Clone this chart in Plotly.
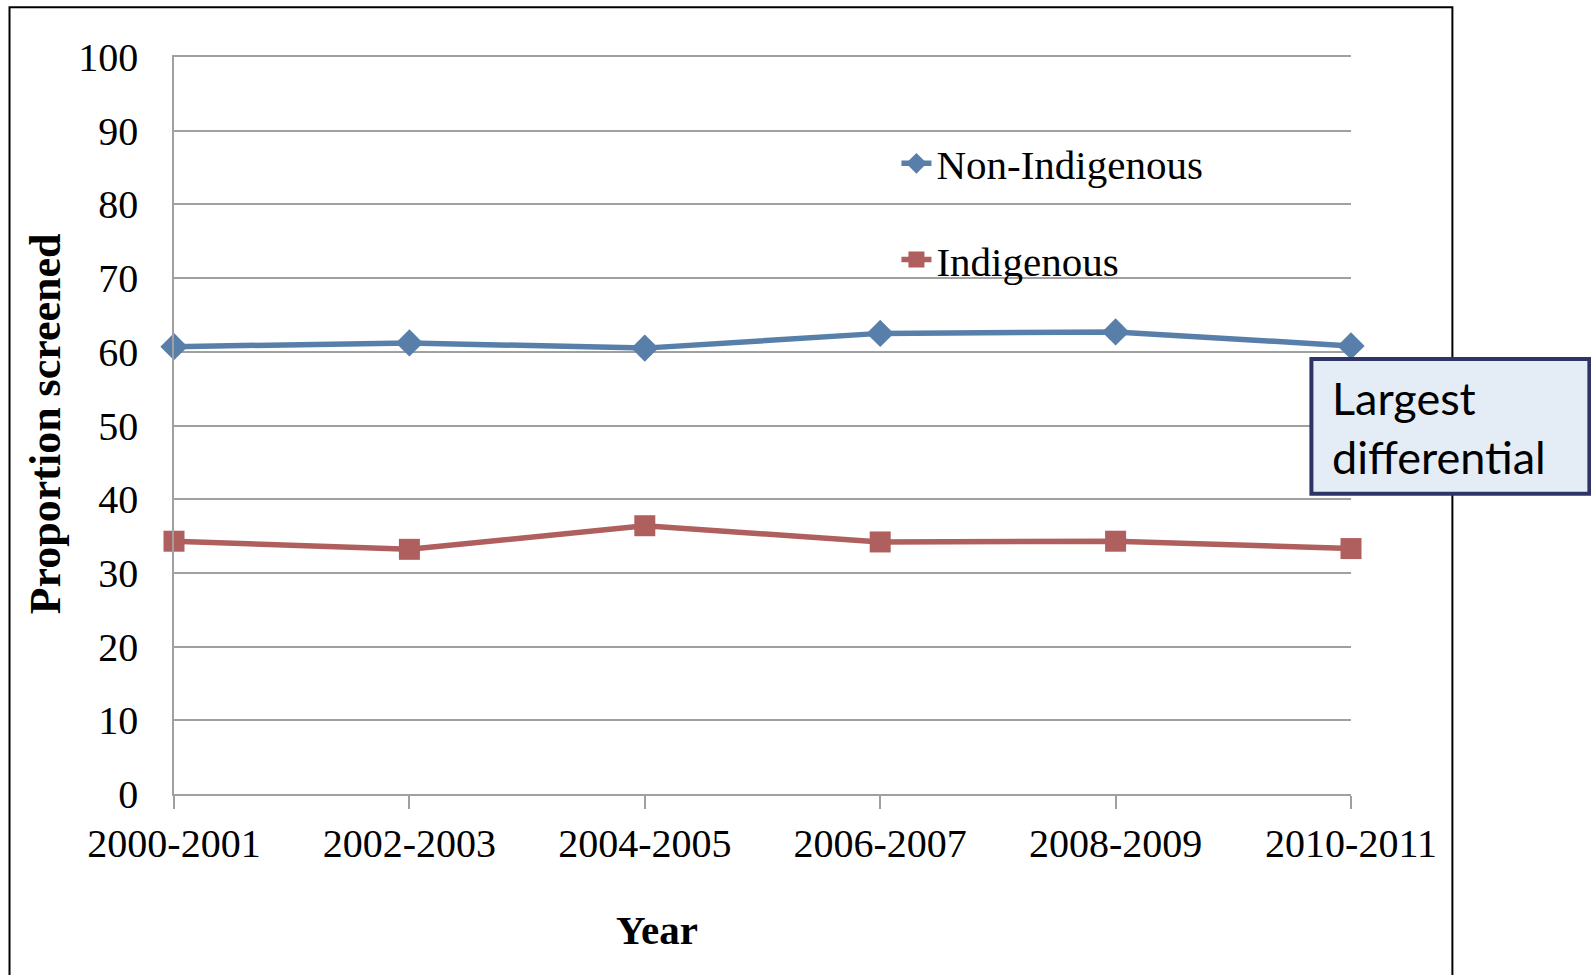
import plotly.graph_objects as go

# Screening proportions by financial year
years = ["2000-2001", "2002-2003", "2004-2005", "2006-2007", "2008-2009", "2010-2011"]
non_indigenous = [60.7, 61.2, 60.5, 62.5, 62.7, 60.8]
indigenous = [34.3, 33.2, 36.4, 34.2, 34.3, 33.3]
y_ticks = [0, 10, 20, 30, 40, 50, 60, 70, 80, 90, 100]

W, H = 1591, 975
L, R, T, B = 173.5, 1350.6, 56.8, 794.5  # plot area in pixels


def xp(px):
    return (px - L) / (R - L)


def yp(py):
    return (B - py) / (B - T)


SERIF = "Liberation Serif, Times New Roman, serif"
BLUE = "#587fa9"
RED = "#af5f5d"
GRID = "#a0a0a0"

fig = go.Figure()
fig.add_trace(go.Scatter(
    x=list(range(len(years))), y=non_indigenous, name="Non-Indigenous",
    mode="lines+markers", cliponaxis=False, legendgroup="a",
    line=dict(color=BLUE, width=5.5),
    marker=dict(symbol="diamond", size=21, color=BLUE),
))
fig.add_trace(go.Scatter(
    x=list(range(len(years))), y=indigenous, name="Indigenous",
    mode="lines+markers", cliponaxis=False, legendgroup="b",
    line=dict(color=RED, width=5.5),
    marker=dict(symbol="square", size=21, color=RED),
))

fig.update_layout(
    width=W, height=H,
    margin=dict(l=L, r=W - R, t=T, b=H - B, pad=0),
    paper_bgcolor="white", plot_bgcolor="white",
    font=dict(family=SERIF, size=40, color="black"),
    showlegend=True,
    legend=dict(
        x=xp(896), y=yp(130), xanchor="left", yanchor="top",
        bgcolor="rgba(0,0,0,0)", traceorder="grouped", tracegroupgap=40,
        font=dict(family=SERIF, size=41, color="black"),
    ),
    xaxis=dict(
        range=[0, len(years) - 1], tickmode="array",
        tickvals=list(range(len(years))), ticktext=years,
        showgrid=False, zeroline=False,
        showline=True, mirror=True, linecolor=GRID, linewidth=1.5,
        ticks="outside", ticklen=13, tickcolor=GRID, tickwidth=1.5,
        tickfont=dict(family=SERIF, size=40, color="black"),
    ),
    yaxis=dict(
        range=[0, 100], tickmode="array", tickvals=y_ticks,
        showgrid=True, gridcolor=GRID, gridwidth=1.5,
        zeroline=False, showline=True, linecolor=GRID, linewidth=1.5,
        ticks="", ticklabelstandoff=26,
        tickfont=dict(family=SERIF, size=40, color="black"),
    ),
)

# Axis titles
fig.add_annotation(
    text="<b>Proportion screened</b>", textangle=-90,
    xref="paper", yref="paper", x=xp(45), y=yp(424),
    xanchor="center", yanchor="middle", showarrow=False,
    font=dict(family=SERIF, size=44, color="black"),
)
fig.add_annotation(
    text="<b>Year</b>",
    xref="paper", yref="paper", x=xp(657), y=yp(931),
    xanchor="center", yanchor="middle", showarrow=False,
    font=dict(family=SERIF, size=41, color="black"),
)

# Outer chart frame
fig.add_shape(
    type="rect", xref="paper", yref="paper",
    x0=xp(9), x1=xp(1452), y0=yp(990), y1=yp(7),
    line=dict(color="black", width=2), fillcolor="rgba(0,0,0,0)", layer="below",
)

# Callout box
fig.add_shape(
    type="rect", xref="paper", yref="paper",
    x0=xp(1311), x1=xp(1589), y0=yp(494), y1=yp(359),
    line=dict(color="#2e3566", width=4), fillcolor="#e4ecf6", layer="above",
)
fig.add_annotation(
    text="Largest<br>differential",
    xref="paper", yref="paper", x=xp(1330), y=yp(428),
    xanchor="left", yanchor="middle", align="left", showarrow=False,
    font=dict(family="Lato, Open Sans, sans-serif", size=45, color="black"),
)

fig.write_html("out.html")
